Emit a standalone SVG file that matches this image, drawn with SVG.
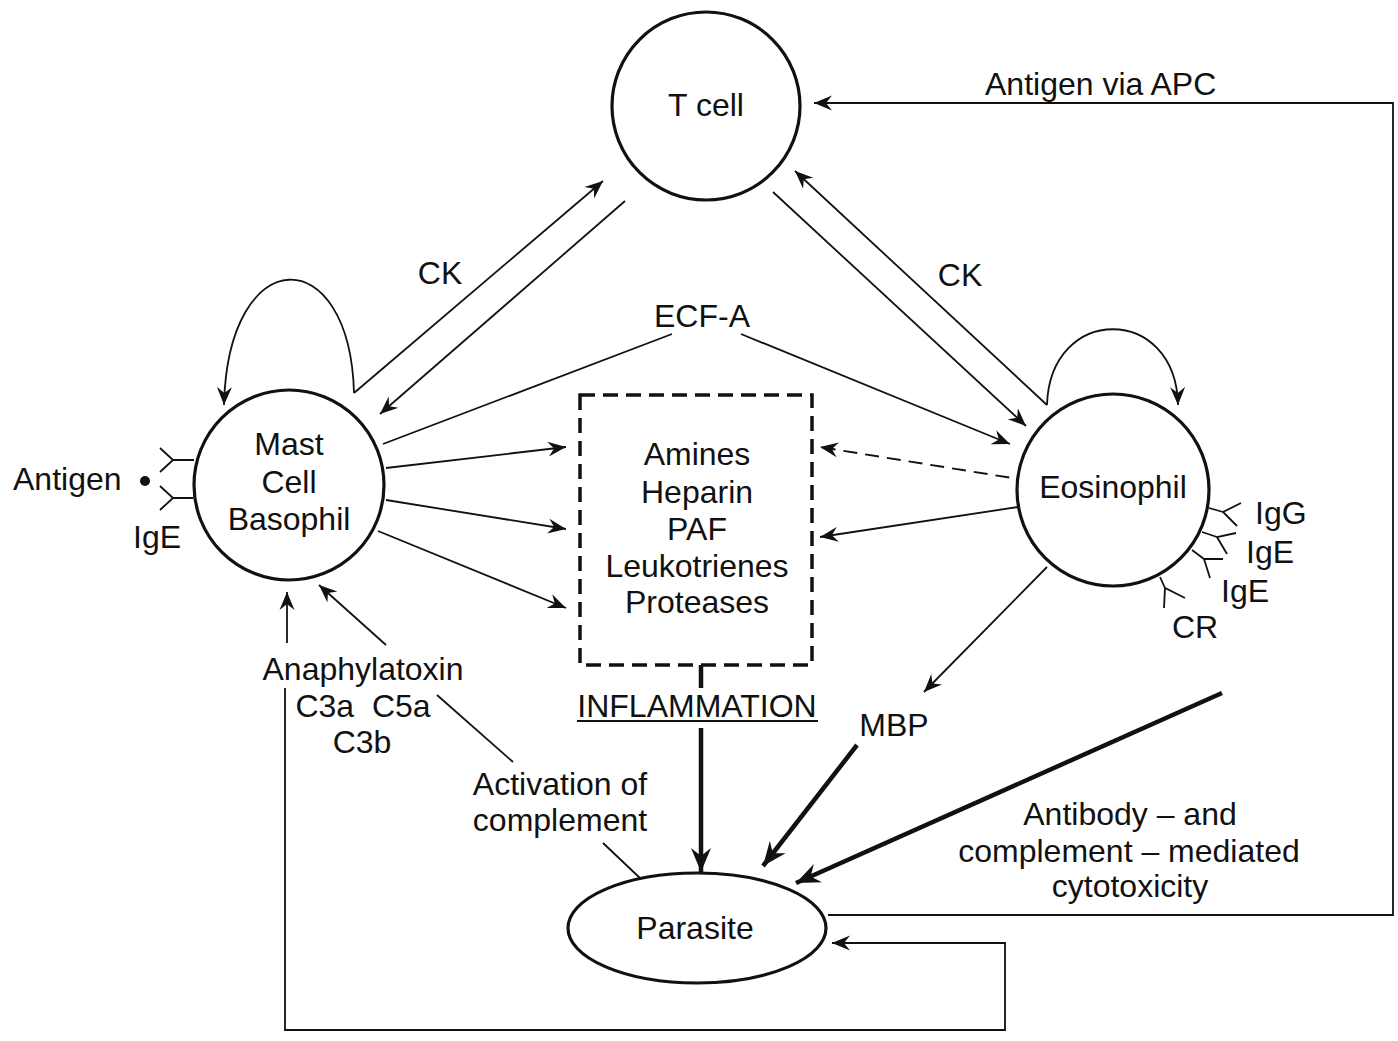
<svg xmlns="http://www.w3.org/2000/svg" width="1398" height="1041" viewBox="0 0 1398 1041">
<style>
text{font-family:"Liberation Sans",Arial,sans-serif;font-size:32px;fill:#111}
.m{text-anchor:middle}
.node{fill:#fff;stroke:#111;stroke-width:3.2}
.ln{fill:none;stroke:#111;stroke-width:1.8}
.thk{fill:none;stroke:#111;stroke-width:4.5}
.rc{fill:none;stroke:#111;stroke-width:1.8}
</style>
<defs>
<marker id="a" viewBox="-18 -9 20 18" refX="0" refY="0" markerWidth="20" markerHeight="18" markerUnits="userSpaceOnUse" orient="auto">
<path d="M0,0 L-18,-7.5 L-12,0 L-18,7.5 Z" fill="#111"/>
</marker>
<marker id="ab" viewBox="-24 -11 26 22" refX="0" refY="0" markerWidth="26" markerHeight="22" markerUnits="userSpaceOnUse" orient="auto">
<path d="M0,0 L-24,-10 L-16,0 L-24,10 Z" fill="#111"/>
</marker>
</defs>
<rect width="1398" height="1041" fill="#fff"/>

<g id="connectors">
<path class="ln" d="M828,915 H1393 V103 H814" marker-end="url(#a)"/>
<path class="ln" d="M285,688 V1030 H1005 V943 H832" marker-end="url(#a)"/>
<path class="ln" d="M287,643 V592" marker-end="url(#a)"/>
<path class="ln" d="M386,645 L319,585" marker-end="url(#a)"/>
<path class="ln" d="M437,695 L513,762"/>
<path class="ln" d="M603,843 L641,879"/>
<path class="ln" d="M354,393 L603,181" marker-end="url(#a)"/>
<path class="ln" d="M625,201 L380,414" marker-end="url(#a)"/>
<path class="ln" d="M354,393 C350,240 228,240 224,405" marker-end="url(#a)"/>
<path class="ln" d="M1047,405 L795,171" marker-end="url(#a)"/>
<path class="ln" d="M773,192 L1026,426" marker-end="url(#a)"/>
<path class="ln" d="M1047,405 C1050,304 1176,304 1178,405" marker-end="url(#a)"/>
<path class="ln" d="M383,444 L672,334"/>
<path class="ln" d="M741,334 L1010,444" marker-end="url(#a)"/>
<path class="ln" d="M386,468 L566,447" marker-end="url(#a)"/>
<path class="ln" d="M386,500 L566,529" marker-end="url(#a)"/>
<path class="ln" d="M378,531 L566,608" marker-end="url(#a)"/>
<path class="ln" d="M1031,481 L820,447" stroke-width="2.4" stroke-dasharray="14,8" marker-end="url(#a)"/>
<path class="ln" d="M1018,507 L820,537" marker-end="url(#a)"/>
<path class="ln" d="M1047,567 L924,692" marker-end="url(#a)"/>
<path class="thk" d="M701,665 V688" stroke-width="6"/>
<path class="thk" d="M701,728 V872" stroke-width="4" marker-end="url(#ab)"/>
<path class="thk" d="M857,745 L763,866" marker-end="url(#ab)"/>
<path class="thk" d="M1222,693 L796,883" marker-end="url(#ab)"/>
</g>

<g id="tcell">
<circle class="node" cx="706" cy="106" r="94"/>
<text class="m" x="706" y="116">T cell</text>
</g>

<g id="mast">
<circle class="node" cx="289" cy="485" r="95"/>
<text class="m" x="289" y="455">Mast</text>
<text class="m" x="289" y="493">Cell</text>
<text class="m" x="289" y="530">Basophil</text>
<path class="rc" d="M194,460 H173 M160,448 L173,460 L160,472 M193,498 H173 M160,486 L173,498 L160,510"/>
<circle cx="145" cy="481" r="5" fill="#111"/>
<text x="13" y="490">Antigen</text>
<text x="133" y="548">IgE</text>
</g>

<g id="eosinophil">
<circle class="node" cx="1113" cy="490" r="96"/>
<text class="m" x="1113" y="498">Eosinophil</text>
<path class="rc" d="M1209,508 L1223,512 M1241,503 L1223,512 L1237,526"/>
<path class="rc" d="M1202,532 L1217,537 M1236,533 L1217,537 L1227,554"/>
<path class="rc" d="M1192,550 L1204,559 M1223,559 L1204,559 L1210,578"/>
<path class="rc" d="M1160,577 L1165,588 M1185,598 L1165,588 L1164,608"/>
<text x="1255" y="524">IgG</text>
<text x="1246" y="563">IgE</text>
<text x="1221" y="602">IgE</text>
<text x="1172" y="638">CR</text>
</g>

<g id="mediators">
<rect x="580" y="395" width="232" height="270" fill="none" stroke="#111" stroke-width="3.5" stroke-dasharray="15,8"/>
<text class="m" x="697" y="465">Amines</text>
<text class="m" x="697" y="503">Heparin</text>
<text class="m" x="697" y="540">PAF</text>
<text class="m" x="697" y="577">Leukotrienes</text>
<text class="m" x="697" y="613">Proteases</text>
</g>

<g id="inflammation">
<text class="m" x="697" y="717">INFLAMMATION</text>
<line x1="577" y1="721" x2="818" y2="721" stroke="#111" stroke-width="2"/>
</g>

<g id="parasite">
<ellipse class="node" cx="697" cy="928" rx="129" ry="55"/>
<text class="m" x="695" y="939">Parasite</text>
</g>

<g id="labels">
<text x="985" y="95">Antigen via APC</text>
<text class="m" x="440" y="284">CK</text>
<text class="m" x="960" y="286">CK</text>
<text class="m" x="702" y="327">ECF-A</text>
<text class="m" x="363" y="680">Anaphylatoxin</text>
<text class="m" x="363" y="717" style="white-space:pre">C3a  C5a</text>
<text class="m" x="362" y="753">C3b</text>
<text class="m" x="560" y="795">Activation of</text>
<text class="m" x="560" y="831">complement</text>
<text class="m" x="894" y="736">MBP</text>
<text class="m" x="1130" y="825">Antibody – and</text>
<text class="m" x="1129" y="862">complement – mediated</text>
<text class="m" x="1130" y="897">cytotoxicity</text>
</g>
</svg>
